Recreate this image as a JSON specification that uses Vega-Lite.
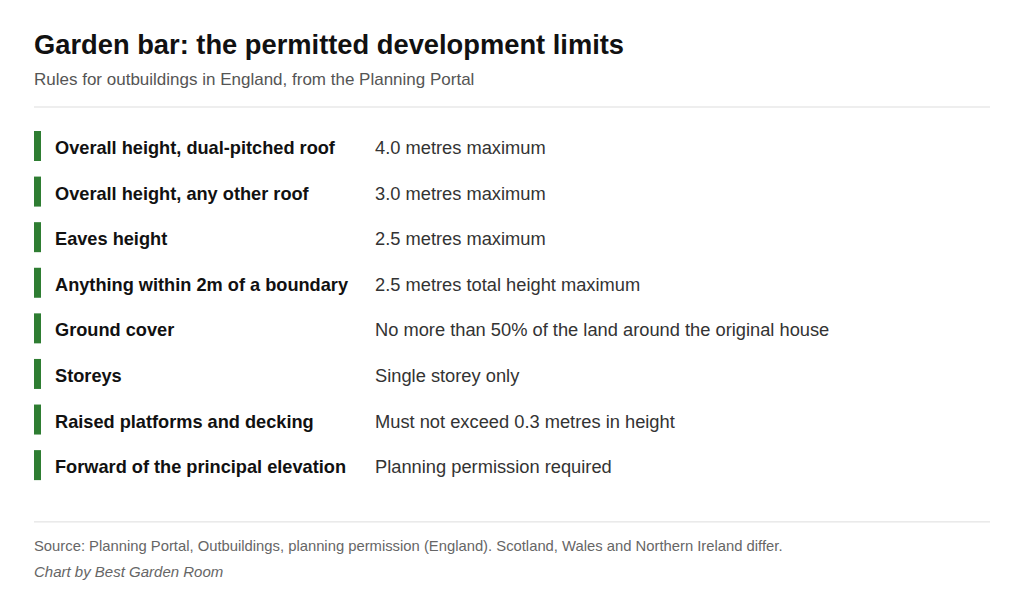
{
  "$schema": "https://vega.github.io/schema/vega-lite/v6.json",
  "width": 956,
  "height": 486,
  "autosize": {"type": "none"},
  "padding": {"left": 34, "right": 34, "top": 100.4, "bottom": 16.6},
  "background": "#ffffff",
  "title": {
    "text": "Garden bar: the permitted development limits",
    "subtitle": "Rules for outbuildings in England, from the Planning Portal",
    "anchor": "start",
    "frame": "group",
    "font": "Liberation Sans",
    "fontSize": 27.3,
    "fontWeight": "bold",
    "color": "#111111",
    "subtitleFont": "Liberation Sans",
    "subtitleFontSize": 17,
    "subtitleColor": "#555555",
    "subtitlePadding": 13,
    "offset": 12
  },
  "datasets": {
    "rows": [
      {"row": 1, "rule": "Overall height, dual-pitched roof", "limit": "4.0 metres maximum"},
      {"row": 2, "rule": "Overall height, any other roof", "limit": "3.0 metres maximum"},
      {"row": 3, "rule": "Eaves height", "limit": "2.5 metres maximum"},
      {"row": 4, "rule": "Anything within 2m of a boundary", "limit": "2.5 metres total height maximum"},
      {"row": 5, "rule": "Ground cover", "limit": "No more than 50% of the land around the original house"},
      {"row": 6, "rule": "Storeys", "limit": "Single storey only"},
      {"row": 7, "rule": "Raised platforms and decking", "limit": "Must not exceed 0.3 metres in height"},
      {"row": 8, "rule": "Forward of the principal elevation", "limit": "Planning permission required"}
    ],
    "dividers": [{"row": 0.145}, {"row": 9.245}],
    "source": [{"row": 9.77, "note": "Source: Planning Portal, Outbuildings, planning permission (England). Scotland, Wales and Northern Ireland differ."}],
    "credit": [{"row": 10.34, "note": "Chart by Best Garden Room"}]
  },
  "config": {"view": {"stroke": null}},
  "layer": [
    {
      "data": {"name": "dividers"},
      "mark": {"type": "rule", "color": "#dddddd", "strokeWidth": 1},
      "encoding": {
        "y": {"field": "row", "type": "quantitative", "scale": {"domain": [0, 10.66], "nice": false, "zero": false, "reverse": true}, "axis": null},
        "x": {"datum": 0, "type": "quantitative", "scale": {"domain": [0, 1], "nice": false}, "axis": null},
        "x2": {"datum": 1}
      }
    },
    {
      "data": {"name": "rows"},
      "mark": {"type": "tick", "orient": "vertical", "color": "#2e7d32", "thickness": 7, "size": 30, "opacity": 1, "xOffset": 3.5},
      "encoding": {
        "y": {"field": "row", "type": "quantitative"},
        "x": {"datum": 0, "type": "quantitative"}
      }
    },
    {
      "data": {"name": "rows"},
      "mark": {"type": "text", "align": "left", "baseline": "middle", "dx": 21, "dy": 3, "font": "Liberation Sans", "fontSize": 18.2, "fontWeight": "bold", "color": "#111111"},
      "encoding": {
        "y": {"field": "row", "type": "quantitative"},
        "x": {"datum": 0, "type": "quantitative"},
        "text": {"field": "rule"}
      }
    },
    {
      "data": {"name": "rows"},
      "mark": {"type": "text", "align": "left", "baseline": "middle", "dx": 341, "dy": 3, "font": "Liberation Sans", "fontSize": 18.3, "color": "#333333"},
      "encoding": {
        "y": {"field": "row", "type": "quantitative"},
        "x": {"datum": 0, "type": "quantitative"},
        "text": {"field": "limit"}
      }
    },
    {
      "data": {"name": "source"},
      "mark": {"type": "text", "align": "left", "baseline": "middle", "dy": 1, "font": "Liberation Sans", "fontSize": 14.8, "color": "#666666"},
      "encoding": {
        "y": {"field": "row", "type": "quantitative"},
        "x": {"datum": 0, "type": "quantitative"},
        "text": {"field": "note"}
      }
    },
    {
      "data": {"name": "credit"},
      "mark": {"type": "text", "align": "left", "baseline": "middle", "font": "Liberation Sans", "fontSize": 15, "fontStyle": "italic", "color": "#666666"},
      "encoding": {
        "y": {"field": "row", "type": "quantitative"},
        "x": {"datum": 0, "type": "quantitative"},
        "text": {"field": "note"}
      }
    }
  ]
}
